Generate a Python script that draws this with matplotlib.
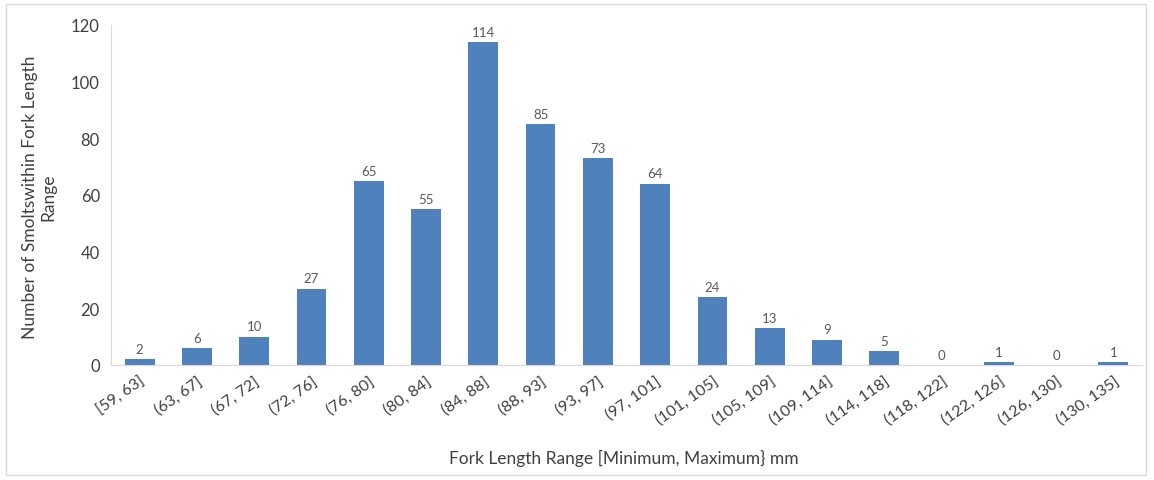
import matplotlib
matplotlib.use("Agg")
import matplotlib.pyplot as plt
from matplotlib.patches import Rectangle

# data
categories = ["[59, 63]", "(63, 67]", "(67, 72]", "(72, 76]", "(76, 80]", "(80, 84]",
              "(84, 88]", "(88, 93]", "(93, 97]", "(97, 101]", "(101, 105]", "(105, 109]",
              "(109, 114]", "(114, 118]", "(118, 122]", "(122, 126]", "(126, 130]", "(130, 135]"]
counts = [2, 6, 10, 27, 65, 55, 114, 85, 73, 64, 24, 13, 9, 5, 0, 1, 0, 1]

plt.rcParams['font.family'] = ['Lato', 'DejaVu Sans']

fig = plt.figure(figsize=[11.54, 4.81], dpi=100)
ax = fig.add_axes([111/1154, 1-366/481, (1142-111)/1154, (366-26)/481])

x = range(len(categories))
bars = ax.bar(x, counts, width=0.52, color="#4f81bd")
for xi, v in zip(x, counts):
	ax.text(xi, v + 1.5, str(v), ha="center", va="bottom", fontsize=9.5, color="#595959")

ax.set_xlim(-0.5, len(categories) - 0.5)
ax.set_ylim(0, 120)
ax.set_yticks(range(0, 121, 20))
ax.set_xticks(list(x))
ax.set_xticklabels(categories, rotation=35, ha="right", rotation_mode="anchor", fontsize=11.5, color="#404040")
ax.tick_params(axis="y", labelsize=12, labelcolor="#404040", length=0, pad=8)
ax.tick_params(axis="x", length=0, pad=6)

for side in ["top", "right"]:
	ax.spines[side].set_visible(False)
ax.spines["left"].set_color("#d9d9d9")
ax.spines["bottom"].set_color("#d9d9d9")

fig.text(39/1154, 1-197/481, "Number of Smoltswithin Fork Length\nRange", rotation=90,
	ha="center", va="center", fontsize=12.5, color="#404040", linespacing=1.15)
fig.text(624/1154, 1-458/481, "Fork Length Range [Minimum, Maximum} mm", ha="center", va="center",
	fontsize=12.5, color="#404040")

fig.patches.append(Rectangle((6/1154, 5/481), 1140/1154, 471/481, transform=fig.transFigure,
	fill=False, edgecolor="#d9d9d9", linewidth=1))

fig.savefig("out.png", dpi=100)
